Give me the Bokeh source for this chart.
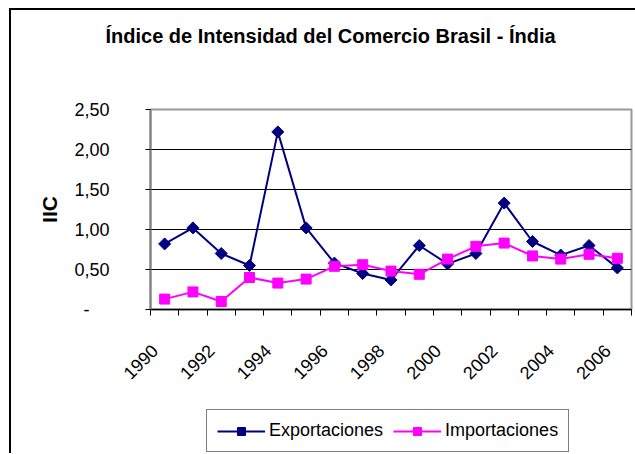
import numpy as np
from bokeh.plotting import figure
from bokeh.layouts import column
from bokeh.models import Range1d, FixedTicker, Legend, LegendItem, ColumnDataSource
from bokeh.embed import file_html
from bokeh.resources import INLINE

# ---- data ----
years = list(range(1990, 2007))
exportaciones = [0.82, 1.02, 0.70, 0.55, 2.22, 1.02, 0.58, 0.45, 0.37, 0.80,
                 0.57, 0.70, 1.33, 0.85, 0.68, 0.80, 0.52]
importaciones = [0.13, 0.22, 0.10, 0.40, 0.33, 0.38, 0.54, 0.56, 0.48, 0.44,
                 0.63, 0.79, 0.83, 0.67, 0.63, 0.69, 0.64]
y_ticks = [0, 0.5, 1.0, 1.5, 2.0, 2.5]
y_tick_labels = ["-\u00a0\u00a0\u00a0\u00a0", "0,50", "1,00", "1,50", "2,00", "2,50"]
x_label_years = years[::2]
title_text = "Índice de Intensidad del Comercio Brasil - Índia"
y_title = "IIC"
series_names = ["Exportaciones", "Importaciones"]

FONT = "Liberation Sans"
LABEL_SHIFT = -0.35   # horizontal shift of rotated year labels (in category widths)
W = 624

src = ColumnDataSource(dict(year=years, exp=exportaciones, imp=importaciones))


def blank_figure(h):
    f = figure(width=W, height=h, x_range=Range1d(0, 1), y_range=Range1d(0, 1),
               output_backend="svg", toolbar_location=None,
               x_axis_location=None, y_axis_location=None, min_border=0,
               min_border_left=0, min_border_right=0, min_border_top=0, min_border_bottom=0)
    f.outline_line_color = None
    f.xgrid.visible = False
    f.ygrid.visible = False
    f.background_fill_color = "white"
    f.border_fill_color = "white"
    return f


# ---- title strip ----
tfig = blank_figure(60)
tfig.title.text = title_text
tfig.title.align = "left"
tfig.title.offset = -45
tfig.title.vertical_align = "top"
tfig.title.standoff = 28
tfig.title.text_font = FONT
tfig.title.text_font_style = "bold"
tfig.title.text_font_size = "20px"
tfig.title.text_color = "black"

# ---- main chart ----
p = figure(frame_width=481, frame_height=200,
           x_range=Range1d(years[0] - 0.5, years[-1] + 0.5),
           y_range=Range1d(y_ticks[0], y_ticks[-1]),
           output_backend="svg", toolbar_location=None,
           min_border_left=139, min_border_right=4,
           min_border_top=39, min_border_bottom=100)
p.background_fill_color = "white"
p.border_fill_color = "white"
p.outline_line_color = "#999999"
p.outline_line_width = 2

p.xgrid.visible = False
p.ygrid.ticker = FixedTicker(ticks=y_ticks[1:-1])
p.ygrid.grid_line_color = "black"
p.ygrid.grid_line_width = 1

p.yaxis.ticker = FixedTicker(ticks=y_ticks)
p.yaxis.major_label_overrides = dict(zip(y_ticks, y_tick_labels))
p.yaxis.major_tick_out = 5
p.yaxis.major_tick_in = 0
p.yaxis.minor_tick_out = 0
p.yaxis.minor_tick_in = 0
p.yaxis.major_tick_line_color = "black"
p.yaxis.axis_line_color = "#808080"
p.yaxis.axis_line_width = 2
p.yaxis.major_label_text_font = FONT
p.yaxis.major_label_text_font_size = "18px"
p.yaxis.major_label_text_color = "black"
p.yaxis.major_label_standoff = 36
p.yaxis.axis_label = y_title
p.yaxis.axis_label_text_font = FONT
p.yaxis.axis_label_text_font_style = "bold"
p.yaxis.axis_label_text_font_size = "21px"
p.yaxis.axis_label_text_color = "black"
p.yaxis.axis_label_standoff = 10

boundaries = [y - 0.5 for y in years] + [years[-1] + 0.5]
label_pos = [y + LABEL_SHIFT for y in x_label_years]
p.xaxis.ticker = FixedTicker(ticks=label_pos, minor_ticks=boundaries)
p.xaxis.major_label_overrides = {pos: str(y) for pos, y in zip(label_pos, x_label_years)}
p.xaxis.major_tick_out = 0
p.xaxis.major_tick_in = 0
p.xaxis.minor_tick_out = 6
p.xaxis.minor_tick_in = 0
p.xaxis.minor_tick_line_color = "black"
p.xaxis.minor_tick_line_width = 1
p.xaxis.axis_line_color = "black"
p.xaxis.axis_line_width = 1.5
p.xaxis.major_label_orientation = np.pi / 4
p.xaxis.major_label_text_font = FONT
p.xaxis.major_label_text_font_size = "18px"
p.xaxis.major_label_text_color = "black"
p.xaxis.major_label_standoff = 32

styles = [dict(color="#000080", marker="square", angle=np.pi / 4, size=8.5),
          dict(color="#FF00FF", marker="square", angle=0.0, size=10)]
cols = ["exp", "imp"]


def add_series(fig):
    rs = []
    for col, st in zip(cols, styles):
        ln = fig.line("year", col, source=src, line_color=st["color"], line_width=2)
        mk = fig.scatter("year", col, source=src, marker=st["marker"], angle=st["angle"],
                         size=st["size"], fill_color=st["color"], line_color=st["color"])
        rs.append([ln, mk])
    return rs


add_series(p)

# ---- legend strip (same series, shown only as legend entries) ----
lfig = blank_figure(44)
lrs = add_series(lfig)
legend = Legend(items=[LegendItem(label=name, renderers=r) for name, r in zip(series_names, lrs)],
                orientation="horizontal", location=(56, 1))
legend.border_line_color = "black"
legend.border_line_width = 1
legend.background_fill_color = "white"
legend.background_fill_alpha = 1
legend.label_text_font = FONT
legend.label_text_font_size = "18px"
legend.label_text_color = "black"
legend.glyph_width = 48
legend.glyph_height = 20
legend.label_standoff = 4
legend.spacing = 10
legend.padding = 10
legend.margin = 0
lfig.add_layout(legend)

layout = column(tfig, p, lfig, spacing=0)
layout.styles = {"margin-left": "9px", "margin-top": "8px",
                 "border-left": "2px solid black", "border-top": "2px solid black"}

open("out.html", "w", encoding="utf-8").write(file_html(layout, INLINE, title="IIC"))
